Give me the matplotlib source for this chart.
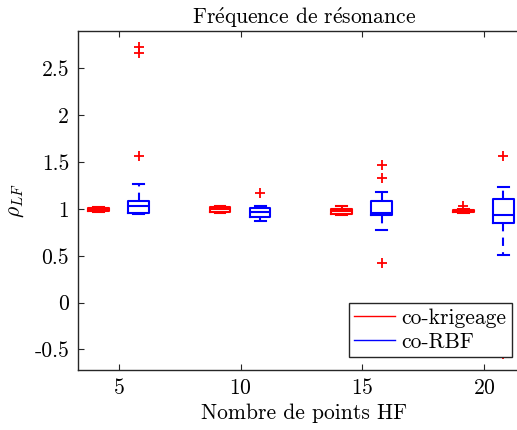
import matplotlib
matplotlib.use('Agg')
import matplotlib.pyplot as plt
from matplotlib.lines import Line2D

plt.rcParams['font.family'] = 'serif'
plt.rcParams['font.serif'] = ['cmr10']
plt.rcParams['mathtext.fontset'] = 'cm'
plt.rcParams['axes.formatter.use_mathtext'] = True
plt.rcParams['font.size'] = 15.5

# nombre de points HF
groups = [5, 10, 15, 20]

# co-krigeage : stats des boites
krig_med = [1.0, 1.0, 0.98, 0.975]
krig_q1 = [0.98, 0.97, 0.95, 0.965]
krig_q3 = [1.015, 1.025, 1.0, 0.99]
krig_lo = [0.97, 0.96, 0.94, 0.955]
krig_hi = [1.025, 1.035, 1.03, 1.0]
krig_out = [[], [], [], [1.035]]

# co-RBF : stats des boites
rbf_med = [1.03, 0.965, 0.96, 0.94]
rbf_q1 = [0.96, 0.91, 0.94, 0.85]
rbf_q3 = [1.09, 1.005, 1.08, 1.11]
rbf_lo = [0.945, 0.87, 0.78, 0.51]
rbf_hi = [1.27, 1.035, 1.18, 1.23]
rbf_out = [[1.57, 2.66, 2.73], [1.17], [1.47, 1.33, 0.42], [1.56, -0.55]]

yticks = [-0.5, 0, 0.5, 1, 1.5, 2, 2.5]
ytick_labels = ['-0.5', '0', '0.5', '1', '1.5', '2', '2.5']


def stats(med, q1, q3, lo, hi, out):
    return [dict(med=med[i], q1=q1[i], q3=q3[i], whislo=lo[i], whishi=hi[i],
                 fliers=out[i]) for i in range(len(med))]


fig = plt.figure(figsize=(5.17, 4.30), dpi=100)
ax = fig.add_axes([0.150, 0.1395, 0.875, 0.7884])

for st, off, col in [(stats(krig_med, krig_q1, krig_q3, krig_lo, krig_hi, krig_out), -0.85, 'red'),
                     (stats(rbf_med, rbf_q1, rbf_q3, rbf_lo, rbf_hi, rbf_out), 0.8, 'blue')]:
    ax.bxp(st, positions=[g + off for g in groups], widths=0.85, capwidths=0.45,
           manage_ticks=False,
           boxprops=dict(color=col, lw=1.5),
           medianprops=dict(color=col, lw=1.5),
           whiskerprops=dict(color=col, lw=1.5, ls=(0, (4, 3))),
           capprops=dict(color=col, lw=1.5),
           flierprops=dict(marker='+', markeredgecolor='red', markersize=7.5, mew=1.3))

ax.set_xlim(3.294, 21.89)
ax.set_ylim(-0.72, 2.90)
ax.set_xticks(groups)
ax.set_yticks(yticks)
ax.set_yticklabels(ytick_labels)
ax.tick_params(direction='in', top=True, right=True, length=4, color='0.15', pad=6)
for s in ax.spines.values():
    s.set_color('0.15')
    s.set_linewidth(1.0)

ax.set_title(r'Fr$\acute{\rm e}$quence de r$\acute{\rm e}$sonance', fontsize=15.5, pad=5)
ax.set_xlabel('Nombre de points HF')
ax.set_ylabel(r'$\rho_{LF}$', labelpad=6)

handles = [Line2D([], [], color='red', lw=1), Line2D([], [], color='blue', lw=1)]
leg = ax.legend(handles, ['co-krigeage', 'co-RBF'], loc='lower right',
                bbox_to_anchor=(512 / 517, 1 - 357 / 430), bbox_transform=fig.transFigure,
                borderaxespad=0, fancybox=False, framealpha=1, edgecolor='0.15',
                handlelength=1.9, handletextpad=0.3, borderpad=0.25, labelspacing=0.2)
leg.get_frame().set_linewidth(1.0)

fig.savefig('out.png', dpi=100)
